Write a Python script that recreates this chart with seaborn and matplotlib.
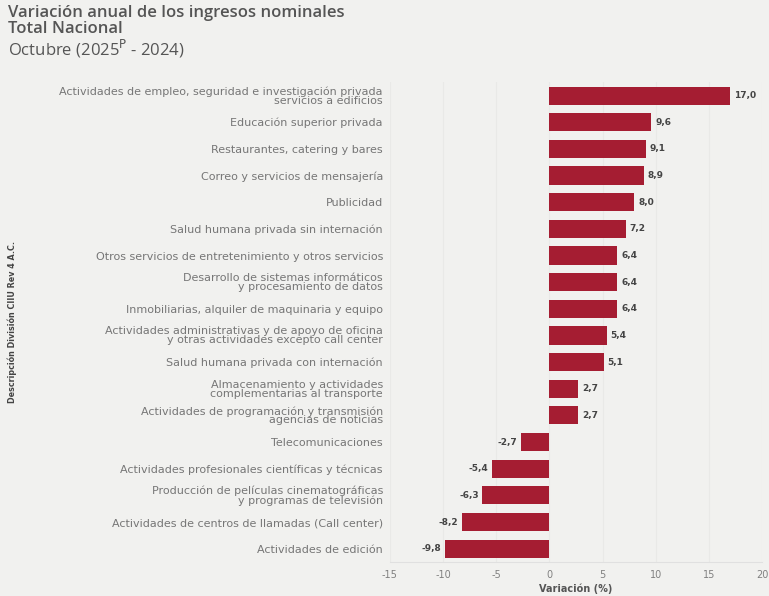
"""Variacion anual de los ingresos nominales por actividad, barras horizontales."""

import matplotlib
matplotlib.use('Agg')
import matplotlib.pyplot as plt
import pandas as pd
import seaborn as sns

# categorias (de arriba hacia abajo) y variacion (%)
actividades = [
    'Actividades de empleo, seguridad e investigación privada\nservicios a edificios',
    'Educación superior privada',
    'Restaurantes, catering y bares',
    'Correo y servicios de mensajería',
    'Publicidad',
    'Salud humana privada sin internación',
    'Otros servicios de entretenimiento y otros servicios',
    'Desarrollo de sistemas informáticos\ny procesamiento de datos',
    'Inmobiliarias, alquiler de maquinaria y equipo',
    'Actividades administrativas y de apoyo de oficina\ny otras actividades excepto call center',
    'Salud humana privada con internación',
    'Almacenamiento y actividades\ncomplementarias al transporte',
    'Actividades de programación y transmisión\nagencias de noticias',
    'Telecomunicaciones',
    'Actividades profesionales científicas y técnicas',
    'Producción de películas cinematográficas\ny programas de televisión',
    'Actividades de centros de llamadas (Call center)',
    'Actividades de edición',
]
variacion = [17.0, 9.6, 9.1, 8.9, 8.0, 7.2, 6.4, 6.4, 6.4, 5.4, 5.1,
             2.7, 2.7, -2.7, -5.4, -6.3, -8.2, -9.8]
x_ticks = [-15, -10, -5, 0, 5, 10, 15, 20]

df = pd.DataFrame({'actividad': actividades, 'variacion': variacion})

sns.set_style('white')
plt.rcParams['font.family'] = ['DejaVu Sans']

bg = '#f1f1ef'
fig = plt.figure(figsize=(7.69, 5.96), dpi=100, facecolor=bg)
ax = fig.add_axes([0.507, 0.057, 0.484, 0.805], facecolor=bg)

sns.barplot(data=df, x='variacion', y='actividad', orient='h',
            color='#a51d32', width=0.68, saturation=1, linewidth=0, ax=ax)

# etiquetas de valor con coma decimal
for bar, v in zip(ax.patches, variacion):
    y = bar.get_y() + bar.get_height() / 2
    txt = f'{v:.1f}'.replace('.', ',')
    if v >= 0:
        ax.text(v + 0.35, y, txt, ha='left', va='center', fontsize=6.5,
                fontweight='bold', color='#444444')
    else:
        ax.text(v - 0.35, y, txt, ha='right', va='center', fontsize=6.5,
                fontweight='bold', color='#444444')

ax.set_xlim(-15, 20)
ax.set_xticks(x_ticks)
ax.set_xticklabels([str(t) for t in x_ticks])
ax.tick_params(axis='x', labelsize=7, colors='#808080', length=0, pad=6)
ax.tick_params(axis='y', labelsize=8, colors='#767676', length=0, pad=5)
for lbl in ax.get_yticklabels():
    lbl.set_horizontalalignment('right')
    lbl.set_multialignment('right')
    lbl.set_linespacing(0.85)

ax.set_xlabel('Variación (%)', fontsize=7, fontweight='bold', color='#555555',
              labelpad=2)
ax.set_ylabel('')
ax.xaxis.grid(True, color='#e9e9e7', linewidth=0.8)
ax.set_axisbelow(True)
for side in ['top', 'right', 'left']:
    ax.spines[side].set_visible(False)
ax.spines['bottom'].set_color('#e0e0e0')

fig.text(0.010, 0.46, 'Descripción División CIIU Rev 4 A.C.', rotation=90,
         fontsize=5.8, fontweight='bold', color='#444444', ha='left',
         va='center')

tkw = dict(fontsize=12, color='#555555', ha='left', va='center',
           family=['Open Sans', 'DejaVu Sans'])
fig.text(0.010, 0.978, 'Variación anual de los ingresos nominales',
         fontweight='semibold', **tkw)
fig.text(0.010, 0.951, 'Total Nacional', fontweight='semibold', **tkw)
fig.text(0.010, 0.918, r'Octubre (2025$^{\mathrm{P}}$ - 2024)', **tkw)

fig.savefig('out.png', dpi=100, facecolor=bg)
